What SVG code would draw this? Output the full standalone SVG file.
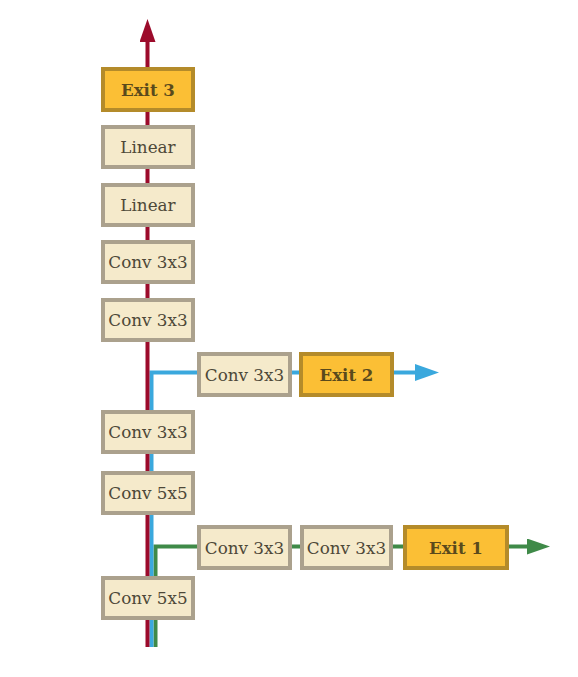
<svg xmlns="http://www.w3.org/2000/svg" width="578" height="677" viewBox="0 0 578 677">
<style>
.box{fill:#f5eacb;stroke:#aba18d;stroke-width:4}
.exit{fill:#fbbf35;stroke:#b48b2a;stroke-width:4}
.t{font-family:"DejaVu Serif","Liberation Serif",serif;font-size:16.8px;fill:#4d4838;text-anchor:middle;dominant-baseline:central}
.te{font-family:"DejaVu Serif","Liberation Serif",serif;font-size:16.6px;font-weight:bold;fill:#5a4a1c;text-anchor:middle;dominant-baseline:central}
.ln{fill:none;stroke-width:4}
</style>
<defs>
<marker id="ar" markerUnits="userSpaceOnUse" markerWidth="24" markerHeight="16" refX="0" refY="8" orient="auto"><path d="M0,0 L23,8 L0,16 z" fill="#9c0b2b"/></marker>
<marker id="ab" markerUnits="userSpaceOnUse" markerWidth="24" markerHeight="17" refX="0" refY="8.5" orient="auto"><path d="M0,0 L24,8.5 L0,17 z" fill="#3aa8dd"/></marker>
<marker id="ag" markerUnits="userSpaceOnUse" markerWidth="24" markerHeight="16" refX="0" refY="8" orient="auto"><path d="M0,0 L23,8 L0,16 z" fill="#3f8a48"/></marker>
</defs>
<g id="connectors">
<path class="ln" stroke="#3f8a48" d="M155.5,647 V546.5 H527" marker-end="url(#ag)"/>
<path class="ln" stroke="#3aa8dd" d="M151.5,647 V372.5 H415" marker-end="url(#ab)"/>
<path class="ln" stroke="#9c0b2b" d="M147.5,647 V42" marker-end="url(#ar)"/>
</g>
<g id="exit3"><rect class="exit" x="103" y="69" width="90" height="41"/><text class="te" x="148" y="89.5">Exit 3</text></g>
<g id="linear2"><rect class="box" x="103" y="127" width="90" height="40"/><text class="t" x="148" y="147">Linear</text></g>
<g id="linear1"><rect class="box" x="103" y="185" width="90" height="40"/><text class="t" x="148" y="205">Linear</text></g>
<g id="conv6"><rect class="box" x="103" y="242" width="90" height="40"/><text class="t" x="148" y="262">Conv 3x3</text></g>
<g id="conv5"><rect class="box" x="103" y="300" width="90" height="40"/><text class="t" x="148" y="320">Conv 3x3</text></g>
<g id="conv4"><rect class="box" x="103" y="412" width="90" height="40"/><text class="t" x="148" y="432">Conv 3x3</text></g>
<g id="conv2"><rect class="box" x="103" y="473" width="90" height="40"/><text class="t" x="148" y="493">Conv 5x5</text></g>
<g id="conv1"><rect class="box" x="103" y="578" width="90" height="40"/><text class="t" x="148" y="598">Conv 5x5</text></g>
<g id="b2conv"><rect class="box" x="199" y="354" width="91" height="41"/><text class="t" x="244.5" y="374.5">Conv 3x3</text></g>
<g id="exit2"><rect class="exit" x="301" y="354" width="91" height="41"/><text class="te" x="346.5" y="374.5">Exit 2</text></g>
<g id="b1conv1"><rect class="box" x="199" y="527" width="91" height="41"/><text class="t" x="244.5" y="547.5">Conv 3x3</text></g>
<g id="b1conv2"><rect class="box" x="302" y="527" width="89" height="41"/><text class="t" x="346.5" y="547.5">Conv 3x3</text></g>
<g id="exit1"><rect class="exit" x="405" y="527" width="102" height="41"/><text class="te" x="456" y="547.5">Exit 1</text></g>
</svg>
